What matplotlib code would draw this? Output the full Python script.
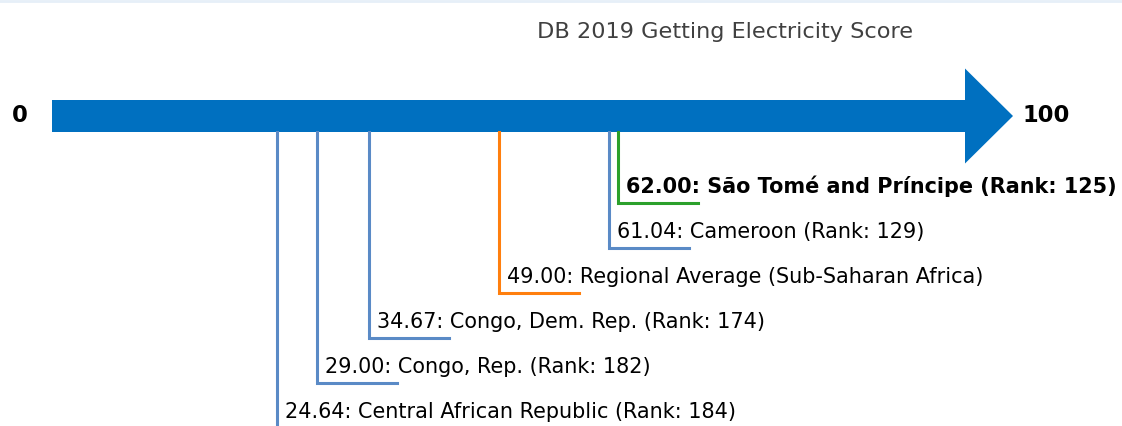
import matplotlib
matplotlib.use('Agg')
import matplotlib.pyplot as plt
from matplotlib.patches import Polygon
from matplotlib.lines import Line2D

# Data
names = ['São Tomé and Príncipe', 'Cameroon', 'Regional Average (Sub-Saharan Africa)',
         'Congo, Dem. Rep.', 'Congo, Rep.', 'Central African Republic']
scores = [62.00, 61.04, 49.00, 34.67, 29.00, 24.64]
ranks = [125, 129, None, 174, 182, 184]
kinds = ['focus', 'peer', 'average', 'peer', 'peer', 'peer']
title = 'DB 2019 Getting Electricity Score'

colors = {'focus': '#2ca02c', 'peer': '#5a8ac6', 'average': '#ff7f0e'}

W, H, DPI = 1122, 426, 100
fig = plt.figure(figsize=(W / DPI, H / DPI), dpi=DPI)
ax = fig.add_axes([0, 0, 1, 1])
ax.set_axis_off()

# x in score units, y in pixels from top
x0_px, x100_px = 52, 965
ppu = (x100_px - x0_px) / 100.0
ax.set_xlim(-x0_px / ppu, (W - x0_px) / ppu)
ax.set_ylim(H, 0)

# arrow
y_mid, half_shaft, half_head = 116, 16, 47.5
tip = (1013 - x0_px) / ppu
arrow = Polygon([(0, y_mid - half_shaft), (100, y_mid - half_shaft), (100, y_mid - half_head),
                 (tip, y_mid), (100, y_mid + half_head), (100, y_mid + half_shaft),
                 (0, y_mid + half_shaft)], closed=True, facecolor='#0070c0', edgecolor='none')
ax.add_patch(arrow)

ax.text(-x0_px / ppu + 20 / ppu, y_mid, '0', ha='center', va='center',
        fontsize=16.3, fontweight='bold', color='black')
ax.text(100 + (1046 - x100_px) / ppu, y_mid, '100', ha='center', va='center',
        fontsize=16.3, fontweight='bold', color='black')

ax.text((725 - x0_px) / ppu, 32, title, ha='center', va='center',
        fontsize=16.1, color='#404040')

# markers
first_y, step = 203, 45
seg = 80 / ppu
for i, (n, s, r, k) in enumerate(zip(names, scores, ranks, kinds)):
    y = first_y + i * step
    c = colors[k]
    ax.plot([s, s, s + seg], [y_mid + half_shaft, y, y], color=c, lw=2.2,
            solid_joinstyle='miter', zorder=1)
    label = f'{s:.2f}: {n}' if r is None else f'{s:.2f}: {n} (Rank: {r})'
    ax.text(s + 8 / ppu, y - 10, label, ha='left', va='baseline', fontsize=14.95,
            fontweight='bold' if k == 'focus' else 'normal', color='black')

fig.add_artist(Line2D([0, 1], [1 - 1 / H, 1 - 1 / H], transform=fig.transFigure,
                      color='#e6eff8', lw=2))

fig.savefig('out.png', dpi=DPI)
